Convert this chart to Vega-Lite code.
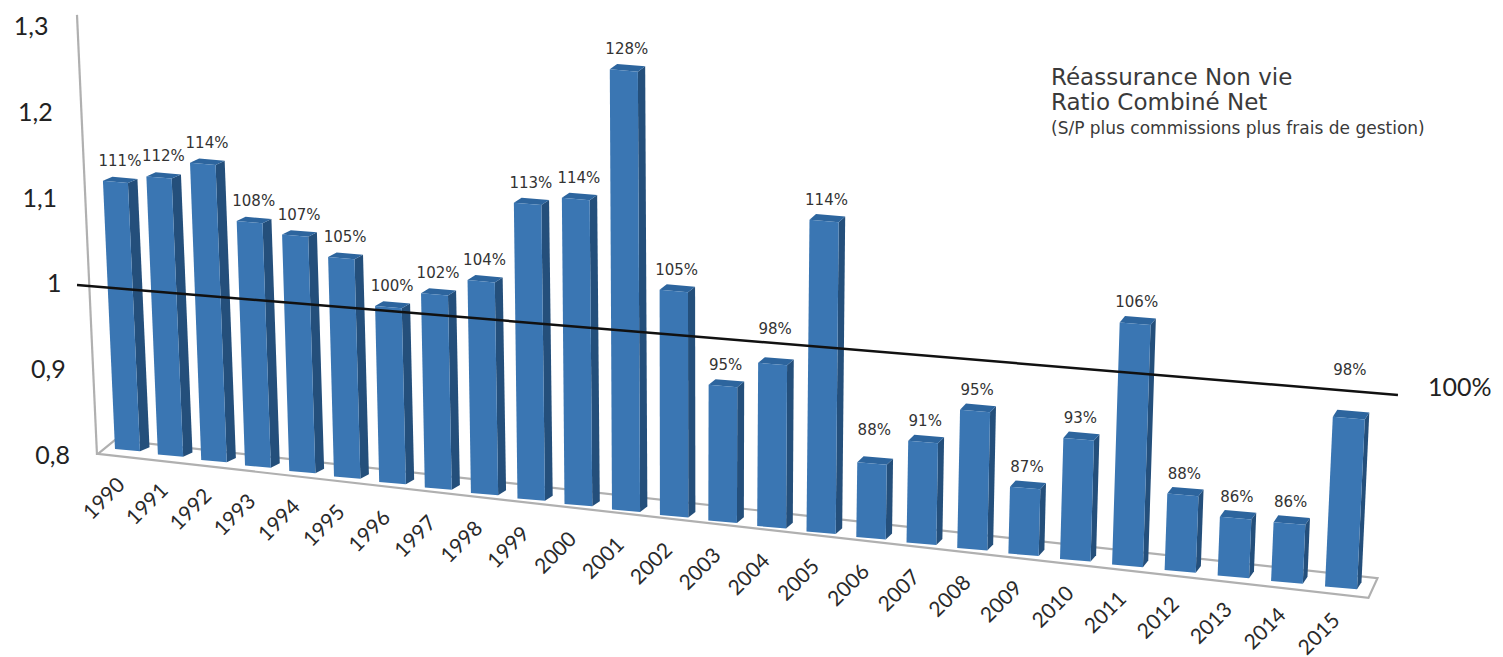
{
  "$schema": "https://vega.github.io/schema/vega-lite/v6.json",
  "width": 1503,
  "height": 657,
  "padding": 0,
  "autosize": "none",
  "background": "white",
  "view": {"stroke": null},
  "title": {
    "text": ["Réassurance Non vie", "Ratio Combiné Net"],
    "subtitle": "(S/P plus commissions plus frais de gestion)",
    "anchor": "start",
    "frame": "group",
    "dx": 1051,
    "dy": 137,
    "offset": 0,
    "font": "DejaVu Sans",
    "fontSize": 23,
    "fontWeight": "normal",
    "color": "#3a3a3a",
    "lineHeight": 25,
    "subtitleFont": "DejaVu Sans",
    "subtitleFontSize": 17,
    "subtitleColor": "#3a3a3a",
    "subtitlePadding": 6
  },
  "data": {"values": [
    {"year": 1990, "ratio": 1.11}, {"year": 1991, "ratio": 1.12}, {"year": 1992, "ratio": 1.14},
    {"year": 1993, "ratio": 1.08}, {"year": 1994, "ratio": 1.07}, {"year": 1995, "ratio": 1.05},
    {"year": 1996, "ratio": 1.00}, {"year": 1997, "ratio": 1.02}, {"year": 1998, "ratio": 1.04},
    {"year": 1999, "ratio": 1.13}, {"year": 2000, "ratio": 1.14}, {"year": 2001, "ratio": 1.28},
    {"year": 2002, "ratio": 1.05}, {"year": 2003, "ratio": 0.95}, {"year": 2004, "ratio": 0.98},
    {"year": 2005, "ratio": 1.14}, {"year": 2006, "ratio": 0.88}, {"year": 2007, "ratio": 0.91},
    {"year": 2008, "ratio": 0.95}, {"year": 2009, "ratio": 0.87}, {"year": 2010, "ratio": 0.93},
    {"year": 2011, "ratio": 1.06}, {"year": 2012, "ratio": 0.88}, {"year": 2013, "ratio": 0.86},
    {"year": 2014, "ratio": 0.86}, {"year": 2015, "ratio": 0.98}
  ]},
  "transform": [
    {"calculate": "datum.year - 1990", "as": "i"},
    {"calculate": "115 + 42.65 * datum.i + 0.23 * datum.i * datum.i", "as": "baseX"},
    {"calculate": "449 + 5.5 * datum.i", "as": "baseY"},
    {"calculate": "(860 + 3.3 * datum.i) * (datum.ratio - 0.8) + 128 * (datum.ratio - 1) * (datum.ratio - 1)", "as": "rise"},
    {"calculate": "0.045 - 0.00364 * datum.i", "as": "lean"},
    {"calculate": "25 + 0.28 * datum.i", "as": "barWidth"},
    {"calculate": "9.5 - 0.2 * datum.i", "as": "deepX"},
    {"calculate": "4 + 0.12 * datum.i", "as": "deepY"}
  ],
  "encoding": {
    "x": {"field": "px", "type": "quantitative", "scale": {"domain": [0, 1503], "nice": false, "zero": false}, "axis": null},
    "y": {"field": "py", "type": "quantitative", "scale": {"domain": [0, 657], "reverse": true, "nice": false, "zero": false}, "axis": null}
  },
  "layer": [
    {
      "data": {"values": [
        {"year": 1989.6, "depth": 0, "corner": 0},
        {"year": 2015.8, "depth": 0, "corner": 1},
        {"year": 2015.8, "depth": 1, "corner": 2},
        {"year": 1989.6, "depth": 1, "corner": 3},
        {"year": 1989.6, "depth": 0, "corner": 4}
      ]},
      "transform": [
        {"calculate": "datum.year - 1990", "as": "i"},
        {"calculate": "115 + 42.65 * datum.i + 0.23 * datum.i * datum.i + datum.depth * (17 - 0.31 * datum.i)", "as": "px"},
        {"calculate": "456 + 5.5 * datum.i - datum.depth * (14 + 0.22 * datum.i)", "as": "py"}
      ],
      "mark": {"type": "line", "stroke": "#b0b0b0", "strokeWidth": 2.2},
      "encoding": {"order": {"field": "corner", "type": "ordinal"}}
    },
    {
      "data": {"values": [{"ratio": 0.8}, {"ratio": 1.313}]},
      "transform": [
        {"calculate": "97 - 39 * (datum.ratio - 0.8)", "as": "px"},
        {"calculate": "455 - 858 * (datum.ratio - 0.8)", "as": "py"}
      ],
      "mark": {"type": "line", "stroke": "#b0b0b0", "strokeWidth": 2.2}
    },
    {
      "data": {"values": [
        {"ratio": 0.8, "label": "0,8"}, {"ratio": 0.9, "label": "0,9"}, {"ratio": 1.0, "label": "1"},
        {"ratio": 1.1, "label": "1,1"}, {"ratio": 1.2, "label": "1,2"}, {"ratio": 1.3, "label": "1,3"}
      ]},
      "transform": [
        {"calculate": "70 - 43 * (datum.ratio - 0.8)", "as": "px"},
        {"calculate": "456 - 858 * (datum.ratio - 0.8)", "as": "py"}
      ],
      "mark": {"type": "text", "align": "right", "baseline": "middle", "font": "Lato", "fontSize": 25, "color": "#222222"},
      "encoding": {"text": {"field": "label"}}
    },
    {
      "transform": [
        {"calculate": "[1, 1, 1, 1]", "as": "along"},
        {"calculate": "[0, 1, 1, 0]", "as": "up"},
        {"calculate": "[0, 0, 1, 1]", "as": "depth"},
        {"calculate": "[0, 1, 2, 3]", "as": "vertex"},
        {"flatten": ["along", "up", "depth", "vertex"]},
        {"calculate": "datum.baseX - datum.lean * datum.rise * datum.up + datum.along * datum.barWidth + datum.depth * datum.deepX", "as": "px"},
        {"calculate": "datum.baseY - datum.rise * datum.up + datum.along * datum.barWidth * 0.085 - datum.depth * datum.deepY", "as": "py"}
      ],
      "mark": {"type": "line", "fill": "#244f7b", "strokeWidth": 0},
      "encoding": {"detail": {"field": "year"}, "order": {"field": "vertex", "type": "ordinal"}}
    },
    {
      "transform": [
        {"calculate": "[0, 1, 1, 0]", "as": "along"},
        {"calculate": "[1, 1, 1, 1]", "as": "up"},
        {"calculate": "[0, 0, 1, 1]", "as": "depth"},
        {"calculate": "[0, 1, 2, 3]", "as": "vertex"},
        {"flatten": ["along", "up", "depth", "vertex"]},
        {"calculate": "datum.baseX - datum.lean * datum.rise * datum.up + datum.along * datum.barWidth + datum.depth * datum.deepX", "as": "px"},
        {"calculate": "datum.baseY - datum.rise * datum.up + datum.along * datum.barWidth * 0.085 - datum.depth * datum.deepY", "as": "py"}
      ],
      "mark": {"type": "line", "fill": "#2d659e", "strokeWidth": 0},
      "encoding": {"detail": {"field": "year"}, "order": {"field": "vertex", "type": "ordinal"}}
    },
    {
      "transform": [
        {"calculate": "[0, 1, 1, 0]", "as": "along"},
        {"calculate": "[0, 0, 1, 1]", "as": "up"},
        {"calculate": "[0, 1, 2, 3]", "as": "vertex"},
        {"flatten": ["along", "up", "vertex"]},
        {"calculate": "datum.baseX - datum.lean * datum.rise * datum.up + datum.along * datum.barWidth", "as": "px"},
        {"calculate": "datum.baseY - datum.rise * datum.up + datum.along * datum.barWidth * 0.085", "as": "py"}
      ],
      "mark": {"type": "line", "fill": "#3a76b3", "strokeWidth": 0},
      "encoding": {"detail": {"field": "year"}, "order": {"field": "vertex", "type": "ordinal"}}
    },
    {
      "data": {"values": [
        {"ratio": 1, "year": 1989.105, "note": ""},
        {"ratio": 1, "year": 2016.34, "note": "100%"}
      ]},
      "transform": [
        {"calculate": "datum.year - 1990", "as": "i"},
        {"calculate": "115 + 42.65 * datum.i + 0.23 * datum.i * datum.i", "as": "px"},
        {"calculate": "449 + 5.5 * datum.i - (802 + 7.3 * datum.i) * (datum.ratio - 0.8)", "as": "py"}
      ],
      "layer": [
        {"mark": {"type": "line", "stroke": "#111111", "strokeWidth": 2.5}},
        {
          "mark": {"type": "text", "align": "left", "baseline": "middle", "dx": 30, "dy": -7, "font": "Lato", "fontSize": 25, "color": "#222222"},
          "encoding": {"text": {"field": "note"}}
        }
      ]
    },
    {
      "transform": [
        {"calculate": "datum.baseX - datum.lean * datum.rise + 17", "as": "px"},
        {"calculate": "datum.baseY - datum.rise - (datum.year == 2015 ? 47 : datum.year == 2004 ? 34 : datum.year == 2006 ? 32 : 20)", "as": "py"},
        {"calculate": "format(datum.ratio, '.0%')", "as": "shown"}
      ],
      "mark": {"type": "text", "align": "center", "baseline": "middle", "font": "DejaVu Sans", "fontSize": 15, "color": "#333333"},
      "encoding": {"text": {"field": "shown"}}
    },
    {
      "transform": [
        {"calculate": "datum.baseX + 7 + 0.2 * datum.i", "as": "px"},
        {"calculate": "datum.baseY + 33 - 0.08 * datum.i", "as": "py"},
        {"calculate": "'' + datum.year", "as": "shown"}
      ],
      "mark": {"type": "text", "align": "right", "baseline": "middle", "angle": -45, "font": "Lato", "fontSize": 21, "color": "#2a2a2a"},
      "encoding": {"text": {"field": "shown"}}
    }
  ]
}
